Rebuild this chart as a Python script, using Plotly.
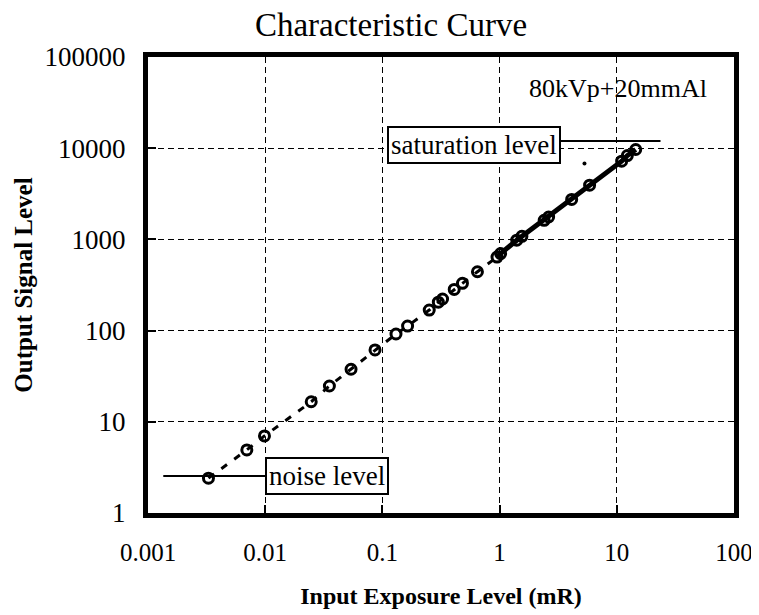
import numpy as np
import plotly.graph_objects as go

exposure = [0.00328, 0.00697, 0.00986, 0.0247, 0.0353, 0.054, 0.0865, 0.1306, 0.164,
            0.251, 0.30, 0.326, 0.41, 0.482, 0.647, 0.95, 1.02, 1.40, 1.55, 2.40,
            2.62, 4.12, 5.86, 11.0, 12.3, 14.5]
signal = [2.41, 4.92, 7.0, 16.6, 24.7, 37.7, 61.4, 91.8, 112,
          168, 205, 222, 283, 330, 442, 640, 700, 980, 1080, 1620,
          1760, 2742, 3935, 7200, 8300, 9680]

# small stray dot near the top of the curve
stray_x = [5.3]
stray_y = [6800]

# level markers
noise_x = [0.00135, 0.01]
noise_y = [2.55, 2.55]
sat_x = [3.32, 23.6]
sat_y = [12000, 12000]

x_ticks = [0.001, 0.01, 0.1, 1, 10, 100]
x_labels = ["0.001", "0.01", "0.1", "1", "10", "100"]
y_ticks = [1, 10, 100, 1000, 10000, 100000]
y_labels = ["1", "10", "100", "1000", "10000", "100000"]

FONT = "Liberation Serif"

# page body has an 8px margin, so the figure is drawn a bit smaller
W, H = 751, 607

low = [i for i, v in enumerate(exposure) if v <= 1.0]
high = [i for i, v in enumerate(exposure) if v >= 0.95]

fig = go.Figure()

# dashed fit through the low-exposure points
fig.add_trace(go.Scatter(
    x=[exposure[i] for i in low], y=[signal[i] for i in low],
    mode="lines", line=dict(color="black", width=3, dash="7px,9px"),
    showlegend=False, hoverinfo="skip"
))
# solid heavy fit through the high-exposure points
fig.add_trace(go.Scatter(
    x=[exposure[i] for i in high], y=[signal[i] for i in high],
    mode="lines", line=dict(color="black", width=5),
    showlegend=False, hoverinfo="skip"
))
fig.add_trace(go.Scatter(
    x=exposure, y=signal, mode="markers",
    marker=dict(symbol="circle-open", size=10, color="black", line=dict(width=3)),
    showlegend=False
))
fig.add_trace(go.Scatter(
    x=stray_x, y=stray_y, mode="markers",
    marker=dict(size=4, color="black"), showlegend=False, hoverinfo="skip"
))
fig.add_trace(go.Scatter(
    x=noise_x, y=noise_y, mode="lines",
    line=dict(color="black", width=2), showlegend=False, hoverinfo="skip"
))
fig.add_trace(go.Scatter(
    x=sat_x, y=sat_y, mode="lines",
    line=dict(color="black", width=2), showlegend=False, hoverinfo="skip"
))

axis_common = dict(
    type="log",
    automargin=False,
    showline=True, linewidth=5, linecolor="black", mirror=True,
    showgrid=True, gridcolor="black", gridwidth=1, griddash="6px,4px",
    ticks="inside", ticklen=8, tickwidth=1.5, tickcolor="black",
    zeroline=False,
)

fig.update_xaxes(
    **axis_common,
    range=[-3, 2],
    tickvals=x_ticks, ticktext=x_labels,
    tickfont=dict(family=FONT, size=25, color="black"),
    ticklabelstandoff=13,
    title=dict(text="<b>Input Exposure Level (mR)</b>",
               font=dict(family=FONT, size=24, color="black"), standoff=24),
)
fig.update_yaxes(
    **axis_common,
    range=[0, 5],
    tickvals=y_ticks, ticktext=y_labels,
    tickfont=dict(family=FONT, size=27, color="black"),
    ticklabelstandoff=12,
    title=dict(text="<b>Output Signal Level</b>",
               font=dict(family=FONT, size=25, color="black"), standoff=6),
)

fig.add_annotation(
    x=np.log10(noise_x[1]), y=np.log10(noise_y[0]), xref="x", yref="y",
    xanchor="left", yanchor="middle", text="noise level", showarrow=False,
    font=dict(family=FONT, size=27, color="black"),
    bgcolor="white", bordercolor="black", borderwidth=2, borderpad=2,
)
fig.add_annotation(
    x=np.log10(sat_x[0]), y=np.log10(sat_y[0]) - 0.04, xref="x", yref="y",
    xanchor="right", yanchor="middle", text="saturation level", showarrow=False,
    font=dict(family=FONT, size=27, color="black"),
    bgcolor="white", bordercolor="black", borderwidth=2, borderpad=2,
)
fig.add_annotation(
    x=0.802, y=0.931, xref="paper", yref="paper",
    xanchor="center", yanchor="middle", text="80kVp+20mmAl", showarrow=False,
    font=dict(family=FONT, size=26, color="black"),
)

fig.update_layout(
    width=W, height=H,
    title=dict(text="Characteristic Curve", x=383 / W, xanchor="center",
               y=1 - 16 / H, yanchor="middle",
               font=dict(family=FONT, size=33, color="black")),
    margin=dict(l=140, r=25, t=49, b=102),
    paper_bgcolor="white",
    plot_bgcolor="white",
)

fig.write_html("out.html")
